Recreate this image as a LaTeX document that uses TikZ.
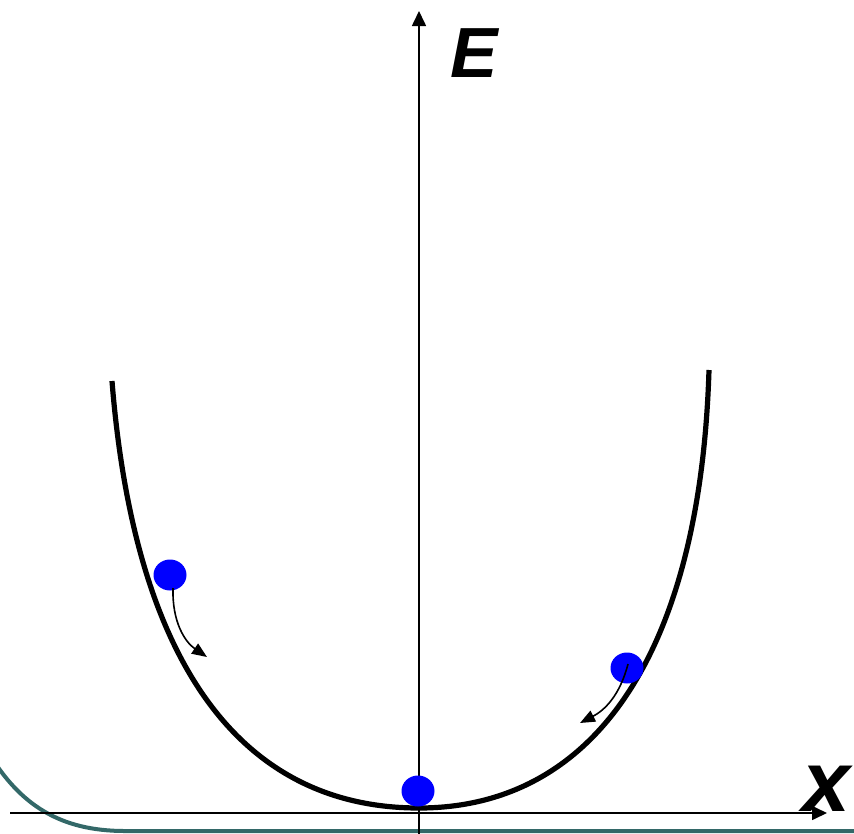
\documentclass[tikz,border=0pt]{standalone}
\usepackage{fontspec}
\setmainfont{Liberation Sans}
\usetikzlibrary{arrows.meta,shapes.geometric}
\definecolor{frameteal}{RGB}{51,104,104}
\begin{document}
\begin{tikzpicture}[x=1pt,y=-1pt,
  axisline/.style={line width=1.6pt,-{Triangle[length=15pt,width=14pt]}},
  wellcurve/.style={line width=5.2pt},
  ball/.style={ellipse,fill=blue,draw=none,minimum width=33pt,minimum height=31pt,inner sep=0pt},
  motion/.style={line width=1.6pt,-{Triangle[length=15pt,width=12pt]}},
  biglabel/.style={inner sep=0pt,font=\bfseries\itshape}
]
\useasboundingbox (0,0) rectangle (854,833);
% slide frame corner
\draw[frameteal,line width=4pt] (-12,752) .. controls (20,805) and (60,831) .. (125,831) -- (870,831);
% axes
\coordinate (ybot) at (419,835);
\coordinate (ytop) at (419,11);
\coordinate (xl) at (10,813);
\coordinate (xr) at (827,813);
\draw[axisline] (ybot) -- (ytop);
\draw[axisline] (xl) -- (xr);
% labels
\node[biglabel,font=\bfseries\itshape\fontsize{71}{71}\selectfont] (E) at (474,53) {E};
\node[biglabel,font=\bfseries\itshape\fontsize{86}{86}\selectfont] (X) at (826,789) {x};
% potential well
\coordinate (wl) at (112,381);
\coordinate (wb) at (419,808);
\coordinate (wr) at (709,370);
\draw[wellcurve,line join=round] (wl) .. controls (135,670) and (245,808) .. (wb)
   .. controls (590,808) and (700,660) .. (wr);
% balls
\node[ball] (bL) at (170,575) {};
\node[ball] (bR) at (627,668) {};
\node[ball] (bB) at (418,791) {};
% motion arrows
\coordinate (aLs) at (173,588);
\coordinate (aLe) at (207,657);
\coordinate (aRs) at (628,664);
\coordinate (aRe) at (580,723);
\draw[motion] (aLs) .. controls (172,622) and (185,642) .. (aLe);
\draw[motion] (aRs) .. controls (620,695) and (605,710) .. (aRe);
\end{tikzpicture}
\end{document}
